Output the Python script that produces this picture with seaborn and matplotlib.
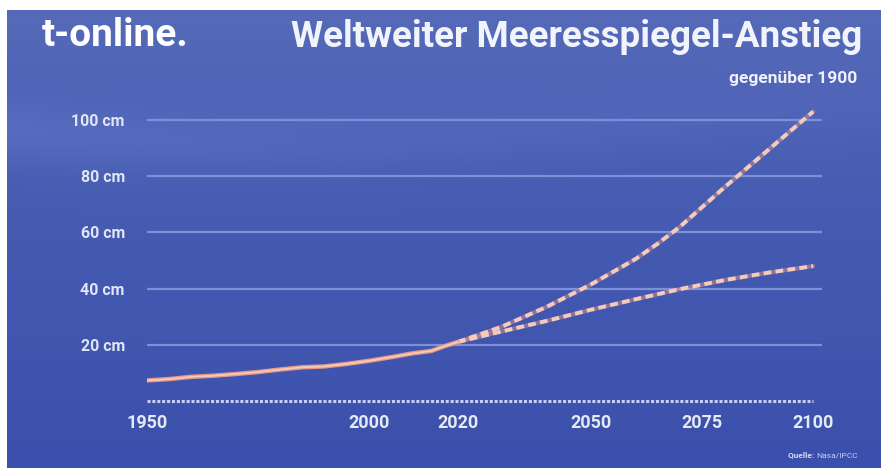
import numpy as np
import pandas as pd
import matplotlib
matplotlib.use("Agg")
import matplotlib.pyplot as plt
import seaborn as sns

# Sea level rise relative to 1900 (cm)
years_hist = [1950, 1955, 1960, 1965, 1970, 1975, 1980, 1985, 1990, 1995,
              2000, 2005, 2010, 2014, 2017, 2020]
level_hist = [7.3, 7.8, 8.6, 9.0, 9.6, 10.3, 11.2, 12.0, 12.3, 13.2,
              14.3, 15.6, 17.0, 17.8, 19.5, 21.0]
years_proj = [2020, 2030, 2040, 2050, 2060, 2065, 2070, 2080, 2090, 2100]
level_high = [21.0, 26.5, 33.5, 41.5, 50.5, 56.0, 62.0, 76.0, 89.5, 103.0]
level_low = [21.0, 24.8, 28.5, 32.5, 36.2, 38.0, 39.8, 43.0, 45.7, 48.0]

x_ticks = [1950, 2000, 2020, 2050, 2075, 2100]
y_ticks = [20, 40, 60, 80, 100]
y_labels = ["20 cm", "40 cm", "60 cm", "80 cm", "100 cm"]

hist = pd.DataFrame({"Jahr": years_hist, "cm": level_hist})
high = pd.DataFrame({"Jahr": years_proj, "cm": level_high})
low = pd.DataFrame({"Jahr": years_proj, "cm": level_low})

sns.set_style("white")
plt.rcParams["font.family"] = ["Roboto", "DejaVu Sans"]

W, H = 881, 468
fig = plt.figure(figsize=(W / 100, H / 100), dpi=100, facecolor="white")

# blue gradient background with a soft lighter wave
bg = fig.add_axes([7 / W, 0, 1 - 7 / W, 1 - 10 / H])
bg.set_axis_off()
ny, nx = 300, 400
yy, xx = np.mgrid[0:1:ny * 1j, 0:1:nx * 1j]
top = np.array([0x56, 0x6A, 0xB9]) / 255
mid = np.array([0x48, 0x5E, 0xB3]) / 255
bot = np.array([0x3A, 0x50, 0xAC]) / 255
t = yy[..., None]
img = np.where(t < 0.35, top + (mid - top) * (t / 0.35),
               mid + (bot - mid) * ((t - 0.35) / 0.65))
wave_c = 0.24 + 0.05 * np.sin(xx * 3.2 + 0.6)
wave = np.exp(-((yy - wave_c) / 0.07) ** 2) * 0.035 * (1.2 - xx)
img = np.clip(img + wave[..., None], 0, 1)
bg.imshow(img, aspect="auto", extent=[0, 1, 1, 0])
bg.set_xlim(0, 1)
bg.set_ylim(1, 0)

# chart area
ax = fig.add_axes([147 / W, 1 - 409.4 / H, (822 - 147) / W, 300.6 / H])
ax.set_facecolor("none")
for s in ax.spines.values():
    s.set_visible(False)
ax.set_xlim(1950, 2102)
ax.set_ylim(-3, 104)

for yv in y_ticks:
    ax.axhline(yv, color="#7E90DA", lw=1.6, zorder=1)
ax.hlines(0, 1950, 2100, color="#C9CEF2", lw=2.2,
          linestyles=(0, (1.0, 0.6)), zorder=2)

salmon = "#E59A86"
pale = "#F6CBBC"
# projections: dashed pale line on a faint salmon trace
for df in (high, low):
    sns.lineplot(data=df, x="Jahr", y="cm", ax=ax, color=salmon, lw=3.0,
                 alpha=0.45, zorder=3, legend=False)
    sns.lineplot(data=df, x="Jahr", y="cm", ax=ax, color=pale, lw=2.8,
                 zorder=4, legend=False)
    ax.lines[-1].set_dashes((2.0, 1.1))
# observed record
sns.lineplot(data=hist, x="Jahr", y="cm", ax=ax, color=salmon, lw=3.2,
             zorder=5, legend=False)
sns.lineplot(data=hist, x="Jahr", y="cm", ax=ax, color=pale, lw=1.3,
             zorder=6, legend=False)

ax.set_xlabel("")
ax.set_ylabel("")
ax.set_xticks(x_ticks)
ax.set_xticklabels([str(v) for v in x_ticks])
ax.set_yticks(y_ticks)
ax.set_yticklabels(y_labels)
ax.tick_params(axis="x", length=0, pad=3, labelsize=13, labelcolor="#E6E9F6")
ax.tick_params(axis="y", length=0, pad=16, labelsize=11.5, labelcolor="#E1E5F5")
for lab in ax.get_xticklabels():
    lab.set_fontweight("bold")
for lab in ax.get_yticklabels():
    lab.set_fontweight("bold")

# titles and source
fig.text(42 / W, 1 - 36 / H, "t-online.", color="white", fontsize=28,
         fontweight="bold", va="center", ha="left")
fig.text(862 / W, 1 - 37 / H, "Weltweiter Meeresspiegel-Anstieg",
         color="#F2F4FB", fontsize=26.5, fontweight="bold",
         va="center", ha="right")
fig.text(857 / W, 1 - 78 / H, "gegenüber 1900", color="#EEF0FA",
         fontsize=12.5, fontweight="bold", va="center", ha="right")
src = fig.text(858 / W, 1 - 455 / H, "Nasa/IPCC", color="#C9CFEE",
               fontsize=6, va="center", ha="right")
ax.annotate("Quelle: ", xy=(0, 0.5), xycoords=src, color="#D6DBF3",
            fontsize=6, fontweight="bold", va="center", ha="right",
            annotation_clip=False)

fig.savefig("out.png", dpi=100, facecolor="white")
